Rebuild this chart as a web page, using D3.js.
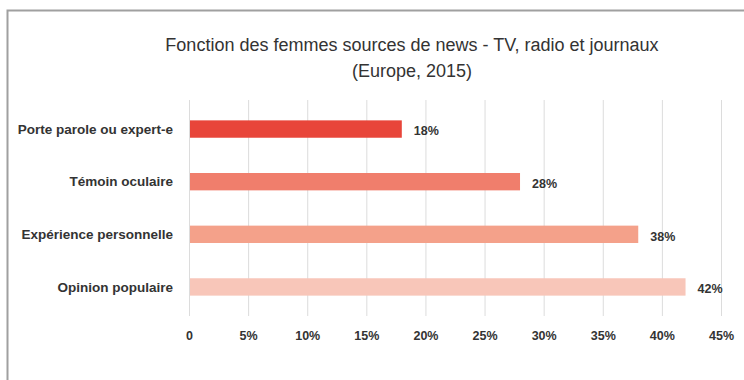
<!DOCTYPE html>
<html>
<head>
<meta charset="utf-8">
<script src="https://cdn.jsdelivr.net/npm/d3@7"></script>
<style>
  body { margin: 0; background: #fff; }
  svg { display: block; }
  text { font-family: 'Liberation Sans Narrow', 'Arial Narrow', 'Liberation Sans', sans-serif; fill: #333; }
</style>
</head>
<body>
<svg id="container" width="744" height="380"></svg>
<script>
const categories = ['Porte parole ou expert-e', 'Témoin oculaire', 'Expérience personnelle', 'Opinion populaire']
const values = [18, 28, 38, 42]
const colors = ['#e8453a', '#f07e6c', '#f4a18a', '#f8c6b9']
const tickValues = [0, 5, 10, 15, 20, 25, 30, 35, 40, 45]
const titleLines = ['Fonction des femmes sources de news - TV, radio et journaux', '(Europe, 2015)']

const svg = d3.select('#container')

// outer frame, runs past the right and bottom edges
svg.append('rect')
  .attr('x', 7.5).attr('y', 10.5)
  .attr('width', 760).attr('height', 400)
  .attr('fill', 'none')
  .attr('stroke', '#a0a0a0')
  .attr('stroke-width', 2)

const x = d3.scaleLinear().domain([0, 45]).range([189, 721])
const y = d3.scaleBand().domain(categories).range([103, 313]).paddingInner(0.67).paddingOuter(0.33)

// grid lines
svg.append('g')
  .selectAll('line')
  .data(tickValues)
  .enter()
  .append('line')
  .attr('x1', (d) => x(d) + 0.5)
  .attr('x2', (d) => x(d) + 0.5)
  .attr('y1', 100)
  .attr('y2', 316)
  .attr('stroke', '#dcdcdc')
  .attr('stroke-width', 1)

// bars
svg.append('g')
  .selectAll('rect')
  .data(values)
  .enter()
  .append('rect')
  .attr('x', x(0) + 1)
  .attr('y', (d, i) => y(categories[i]))
  .attr('width', (d) => x(d) - x(0) - 1)
  .attr('height', y.bandwidth())
  .attr('fill', (d, i) => colors[i])

// category labels
svg.append('g')
  .selectAll('text')
  .data(categories)
  .enter()
  .append('text')
  .attr('x', 173)
  .attr('y', (d) => y(d) + y.bandwidth() / 2)
  .attr('dy', '0.35em')
  .attr('text-anchor', 'end')
  .attr('font-size', 13.5)
  .attr('font-weight', 'bold')
  .text((d) => d)

// value labels
svg.append('g')
  .selectAll('text')
  .data(values)
  .enter()
  .append('text')
  .attr('x', (d) => x(d) + 12)
  .attr('y', (d, i) => y(categories[i]) + y.bandwidth() / 2 + 2)
  .attr('dy', '0.35em')
  .attr('font-size', 12.5)
  .attr('font-weight', 'bold')
  .text((d) => d + '%')

// x axis labels
const axis = d3.axisBottom(x)
  .tickValues(tickValues)
  .tickSize(0)
  .tickPadding(0)
  .tickFormat((d) => (d === 0 ? '0' : d + '%'))

const gAxis = svg.append('g').attr('transform', 'translate(0, 331)').call(axis)
gAxis.select('.domain').remove()
gAxis.selectAll('text')
  .attr('font-size', 12.5)
  .attr('font-weight', 'bold')
  .attr('fill', '#333')
  .style('font-family', "'Liberation Sans Narrow', 'Arial Narrow', 'Liberation Sans', sans-serif")

// title
svg.append('g')
  .selectAll('text')
  .data(titleLines)
  .enter()
  .append('text')
  .attr('x', 412)
  .attr('y', (d, i) => 51 + i * 26)
  .attr('text-anchor', 'middle')
  .attr('font-size', 18)
  .attr('fill', '#222')
  .text((d) => d)
</script>
</body>
</html>
